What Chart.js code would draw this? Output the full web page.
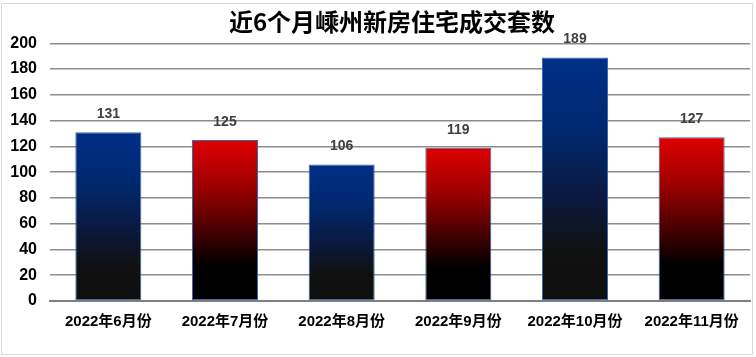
<!DOCTYPE html>
<html><head><meta charset="utf-8">
<script src="https://cdn.jsdelivr.net/npm/chart.js@4/dist/chart.umd.min.js"></script>
<style>
html,body{margin:0;padding:0;background:#fff;}
#wrap{position:relative;width:756px;height:357px;}
canvas{display:block;}
</style></head>
<body><div id="wrap"><canvas id="c" width="756" height="357"></canvas></div>
<script>
const titleText = '近6个月嵊州新房住宅成交套数';
const categories = ['2022年6月份','2022年7月份','2022年8月份','2022年9月份','2022年10月份','2022年11月份'];
const values = [131, 125, 106, 119, 189, 127];
const colorKinds = ['blue','red','blue','red','blue','red'];
const yTicks = [0,20,40,60,80,100,120,140,160,180,200];

function barFill(ctx){
  const chart = ctx.chart;
  const kind = colorKinds[ctx.dataIndex];
  const ys = chart.scales && chart.scales.y;
  if (!chart.chartArea || !ys || ctx.parsed === undefined) return kind === 'blue' ? '#00308a' : '#e00000';
  const top = ys.getPixelForValue(ctx.parsed.y);
  const base = ys.getPixelForValue(0);
  const g = chart.ctx.createLinearGradient(0, top, 0, base);
  if (kind === 'blue') {
    g.addColorStop(0, '#002f88');
    g.addColorStop(0.3, '#00286e');
    g.addColorStop(0.55, '#0a1a44');
    g.addColorStop(0.8, '#101010');
    g.addColorStop(1, '#0f0f0f');
  } else {
    g.addColorStop(0, '#e00000');
    g.addColorStop(0.3, '#9a0000');
    g.addColorStop(0.55, '#4a0000');
    g.addColorStop(0.78, '#000000');
    g.addColorStop(1, '#000000');
  }
  return g;
}

const bgPlugin = {
  id: 'bg',
  beforeDraw(chart){
    const c = chart.ctx;
    c.save();
    c.fillStyle = '#ffffff';
    c.fillRect(0,0,chart.width,chart.height);
    c.strokeStyle = '#d9d9d9';
    c.lineWidth = 1;
    c.strokeRect(1.5, 3.5, 751, 351);
    c.restore();
  }
};

const titlePlugin = {
  id: 'ctitle',
  afterDraw(chart){
    const c = chart.ctx;
    c.save();
    c.font = 'bold 24px "Noto Sans CJK SC", sans-serif';
    c.fillStyle = '#000000';
    c.textAlign = 'center';
    c.textBaseline = 'middle';
    c.fillText(titleText, 392, 22);
    c.restore();
  }
};

const labelPlugin = {
  id: 'vlabels',
  afterDatasetsDraw(chart){
    const c = chart.ctx;
    const meta = chart.getDatasetMeta(0);
    c.save();
    c.font = 'bold 14px "Liberation Sans", Arial, sans-serif';
    c.fillStyle = '#404040';
    c.textAlign = 'center';
    c.textBaseline = 'bottom';
    meta.data.forEach((el, i) => {
      c.fillText(String(values[i]), el.x, el.y - 11);
    });
    c.restore();
  }
};

new Chart(document.getElementById('c'), {
  type: 'bar',
  data: {
    labels: categories,
    datasets: [{
      data: values,
      backgroundColor: barFill,
      borderColor: '#3a69ad',
      borderWidth: 1,
      borderSkipped: false,
      barPercentage: 0.566,
      categoryPercentage: 1
    }]
  },
  options: {
    responsive: false,
    animation: false,
    devicePixelRatio: 1,
    layout: { padding: { left: 0, right: 6, top: 43.3, bottom: 0 } },
    plugins: {
      legend: { display: false },
      tooltip: { enabled: false },
      title: { display: false }
    },
    scales: {
      x: {
        grid: { display: false, drawTicks: false },
        border: { display: true, color: '#808080', width: 2 },
        ticks: {
          color: '#000000',
          padding: 12,
          maxRotation: 0,
          autoSkip: false,
          font: { family: '"Liberation Sans", "Noto Sans CJK SC", sans-serif', size: 15, weight: 'bold' }
        },
        afterFit(s){ s.height = 56; }
      },
      y: {
        min: 0, max: 200,
        afterBuildTicks(s){ s.ticks = yTicks.map(v => ({ value: v })); },
        grid: { color: '#8c8c8c', lineWidth: 1.5, drawTicks: false },
        border: { display: false },
        ticks: {
          color: '#000000',
          padding: 13,
          font: { family: '"Liberation Sans", Arial, sans-serif', size: 16, weight: 'bold' }
        },
        afterFit(s){ s.width = 50; }
      }
    }
  },
  plugins: [bgPlugin, labelPlugin, titlePlugin]
});
</script></body></html>
